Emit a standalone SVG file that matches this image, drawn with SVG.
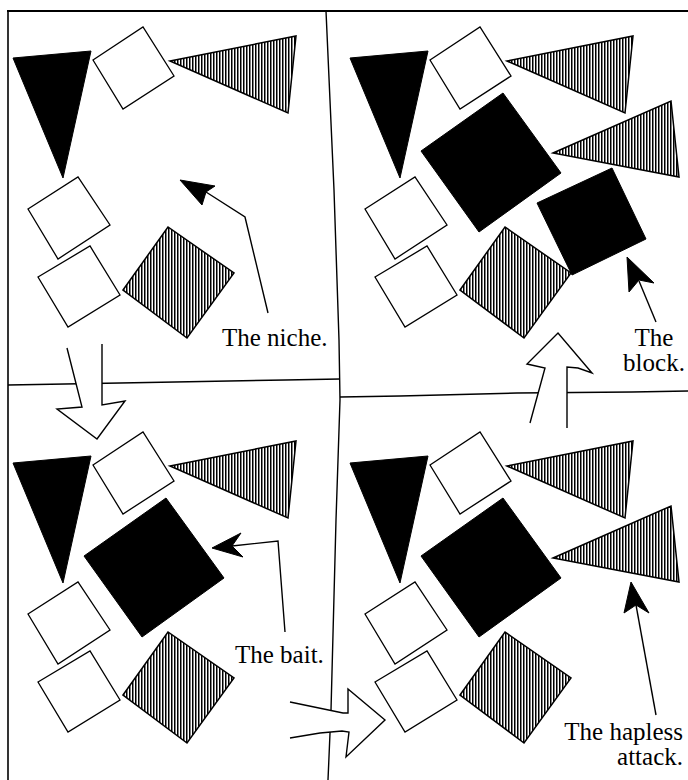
<svg xmlns="http://www.w3.org/2000/svg" xmlns:xlink="http://www.w3.org/1999/xlink" width="688" height="780" viewBox="0 0 688 780">
<style>
.ln{fill:none;stroke:#000;stroke-width:1.4;stroke-linejoin:miter}
.blk{fill:#000;stroke:#000;stroke-width:1}
.wht{fill:#fff;stroke:#000;stroke-width:1.3}
.hat{fill:url(#hatch);stroke:#000;stroke-width:1.5}
.bg{fill:#fff;stroke:none}
.lbl{font-family:"Liberation Serif","Times New Roman",serif;font-size:25px;fill:#000}
</style>
<defs>
<pattern id="hatch" patternUnits="userSpaceOnUse" width="3" height="3">
<rect x="0" y="0" width="3" height="3" fill="#fff"/>
<rect x="0" y="0" width="1.5" height="3" fill="#000"/>
</pattern>
<polygon id="triBlack" points="13,58 91,51 63,178"/>
<polygon id="sq1" points="93,60 143,27 174,76 123,109"/>
<polygon id="triHatch" points="170,61 296,36 288,113"/>
<polygon id="sq2" points="28,209 78,177 110,225 58,259"/>
<polygon id="sq3" points="38,277 90,246 120,295 68,327"/>
<polygon id="sqHatch" points="123,290 168,227 234,273 187,338"/>
<polygon id="bigBlack" points="84,151 166,93 224,173 142,232"/>
<polygon id="triHatch2" points="216,153 334,101 342,177"/>
<polygon id="blockSq" points="200,203 275,168 309,239 235,275"/>
</defs>
<rect x="0" y="0" width="688" height="780" fill="#fff"/>
<g id="frame">
<line x1="7" y1="11" x2="688" y2="11" stroke="#000" stroke-width="2"/>
<line x1="8" y1="10" x2="8" y2="780" stroke="#000" stroke-width="1.6"/>
</g>
<g id="dividers">
<polyline class="ln" points="326,11 334,190 339,340 340,400 336,520 331,710 328,780"/>
<polyline class="ln" points="8,385 65,384 175,382 285,380 340,379"/>
<polyline class="ln" points="340,397 400,396 517,393 632,392 688,391"/>
</g>
<g id="panel-tl">
<use xlink:href="#triBlack" class="blk"/>
<use xlink:href="#sq1" class="wht"/>
<use xlink:href="#triHatch" class="hat"/>
<use xlink:href="#sq2" class="wht"/>
<use xlink:href="#sq3" class="wht"/>
<use xlink:href="#sqHatch" class="hat"/>
</g>
<g id="panel-tr" transform="translate(337,0)">
<use xlink:href="#triBlack" class="blk"/>
<use xlink:href="#sq1" class="wht"/>
<use xlink:href="#triHatch" class="hat"/>
<use xlink:href="#sq2" class="wht"/>
<use xlink:href="#sq3" class="wht"/>
<use xlink:href="#sqHatch" class="hat"/>
<use xlink:href="#bigBlack" class="blk"/>
<use xlink:href="#triHatch2" class="hat"/>
<use xlink:href="#blockSq" class="blk"/>
</g>
<g id="panel-bl" transform="translate(0,405)">
<use xlink:href="#triBlack" class="blk"/>
<use xlink:href="#sq1" class="wht"/>
<use xlink:href="#triHatch" class="hat"/>
<use xlink:href="#sq2" class="wht"/>
<use xlink:href="#sq3" class="wht"/>
<use xlink:href="#sqHatch" class="hat"/>
<use xlink:href="#bigBlack" class="blk"/>
</g>
<g id="panel-br" transform="translate(337,405)">
<use xlink:href="#triBlack" class="blk"/>
<use xlink:href="#sq1" class="wht"/>
<use xlink:href="#triHatch" class="hat"/>
<use xlink:href="#sq2" class="wht"/>
<use xlink:href="#sq3" class="wht"/>
<use xlink:href="#sqHatch" class="hat"/>
<use xlink:href="#bigBlack" class="blk"/>
<use xlink:href="#triHatch2" class="hat"/>
</g>
<g id="connectors">
<g id="arrow-down">
<polygon class="bg" points="67,348 82,407 57,409 97,439 125,401 102,405 102,344"/>
<polyline class="ln" points="67,348 82,407 57,409 97,439 125,401 102,405 102,344"/>
</g>
<g id="arrow-up">
<polygon class="bg" points="567,428 567,367 578,368 592,373 558,333 527,364 545,368 530,423"/>
<polyline class="ln" points="567,428 567,367 578,368 592,373 558,333 527,364 545,368 530,423"/>
</g>
<g id="arrow-right">
<polygon class="bg" points="290,702 343,713 348,713 348,689 385,720 346,757 349,732 342,731 320,733 290,738"/>
<polyline class="ln" points="290,702 343,713 348,713 348,689 385,720 346,757 349,732 342,731 320,733 290,738"/>
</g>
<g id="ptr-niche">
<polyline class="ln" points="206,192 245,217 268,313"/>
<polygon class="blk" points="180,180 215,186 206,192 202,205"/>
</g>
<g id="ptr-block">
<polyline class="ln" points="639,281 656,322"/>
<polygon class="blk" points="627,257 654,283 639,280 629,292"/>
</g>
<g id="ptr-bait">
<polyline class="ln" points="232,546 278,541 285,632"/>
<polygon class="blk" points="212,548 241,533 232,546 243,557"/>
</g>
<g id="ptr-attack">
<polyline class="ln" points="636,605 656,715"/>
<polygon class="blk" points="631,582 649,613 636,605 624,613"/>
</g>
</g>
<g id="labels">
<text class="lbl" x="222" y="346">The niche.</text>
<text class="lbl" x="654" y="346" text-anchor="middle">The</text>
<text class="lbl" x="654" y="371" text-anchor="middle">block.</text>
<text class="lbl" x="235" y="663">The bait.</text>
<text class="lbl" x="683" y="740" text-anchor="end">The hapless</text>
<text class="lbl" x="683" y="765" text-anchor="end">attack.</text>
</g>
</svg>
